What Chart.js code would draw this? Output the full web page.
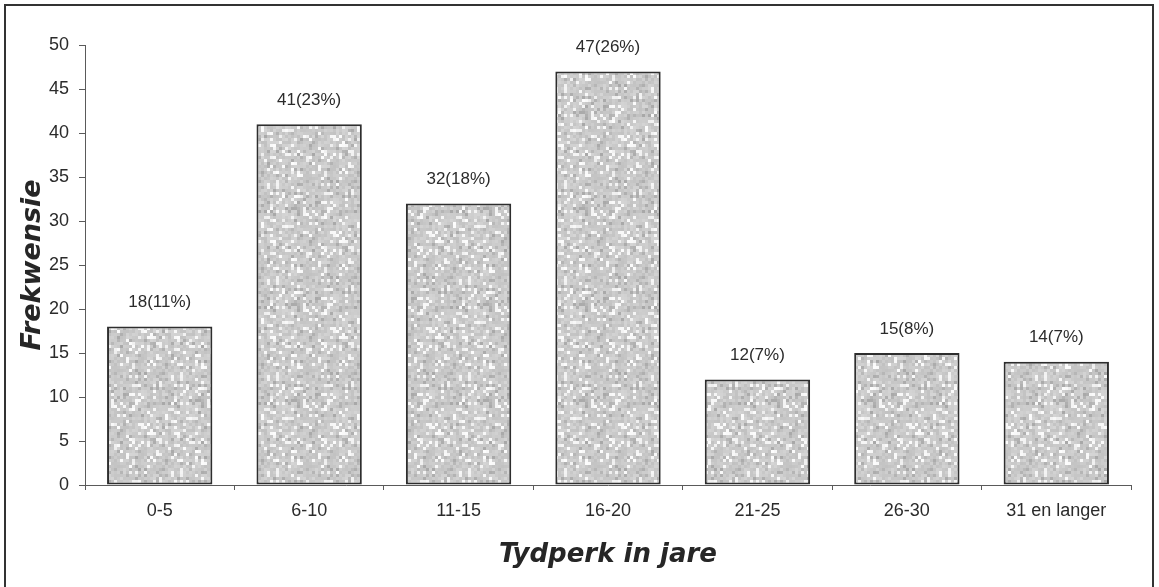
<!DOCTYPE html>
<html>
<head>
<meta charset="utf-8">
<script src="https://cdn.jsdelivr.net/npm/chart.js@4/dist/chart.umd.min.js"></script>
<style>
  html, body { margin: 0; padding: 0; background: #ffffff; }
  canvas { display: block; }
</style>
</head>
<body>
<canvas id="chart" width="1159" height="587"></canvas>
<script>
// Period categories (years) and respondent counts
const categories = ['0-5', '6-10', '11-15', '16-20', '21-25', '26-30', '31 en langer'];
const counts = [18, 41, 32, 47, 12, 15, 14];
const percentages = [11, 23, 18, 26, 7, 8, 7];
const yTicks = [0, 5, 10, 15, 20, 25, 30, 35, 40, 45, 50];

const TEXT = '#2b2b2b';
const AXIS = '#5a5a5a';

// Stippled grey fill for the bars (deterministic hash texture)
function makeStipple() {
  const size = 96, cell = 3;
  const c = document.createElement('canvas');
  c.width = size; c.height = size;
  const g = c.getContext('2d');
  const hash = (x, y) => {
    let h = Math.imul(x, 374761393) + Math.imul(y, 668265263);
    h = Math.imul(h ^ (h >>> 13), 1274126177);
    h ^= h >>> 16;
    return (h >>> 0) / 4294967295;
  };
  for (let y = 0; y < size; y += cell) {
    for (let x = 0; x < size; x += cell) {
      const r = hash(x / cell, y / cell);
      let v;
      if (r > 0.85) v = 238 + Math.floor(hash(x + 7, y + 3) * 16);
      else if (r < 0.12) v = 168 + Math.floor(hash(x + 1, y + 9) * 18);
      else v = 190 + Math.floor(r * 28);
      g.fillStyle = `rgb(${v},${v},${v})`;
      g.fillRect(x, y, cell, cell);
    }
  }
  // soften the speckle a little
  const s = document.createElement('canvas');
  s.width = size; s.height = size;
  const sg = s.getContext('2d');
  sg.filter = 'blur(0.6px)';
  for (const dx of [-size, 0, size]) {
    for (const dy of [-size, 0, size]) sg.drawImage(c, dx, dy);
  }
  return sg.createPattern(s, 'repeat');
}

// Outer frame around the whole figure
const framePlugin = {
  id: 'frame',
  beforeDraw(chart) {
    const ctx = chart.ctx;
    ctx.save();
    ctx.fillStyle = '#ffffff';
    ctx.fillRect(0, 0, chart.width, chart.height);
    ctx.strokeStyle = '#333333';
    ctx.lineWidth = 2;
    ctx.strokeRect(5, 5, 1148, 590);
    ctx.restore();
  }
};

// Count (percentage) labels above each bar
const valueLabels = {
  id: 'valueLabels',
  afterDatasetsDraw(chart) {
    const ctx = chart.ctx;
    const meta = chart.getDatasetMeta(0);
    ctx.save();
    ctx.font = '17px "Liberation Sans", Arial, sans-serif';
    ctx.fillStyle = TEXT;
    ctx.textAlign = 'center';
    ctx.textBaseline = 'middle';
    meta.data.forEach((bar, i) => {
      ctx.fillText(`${counts[i]}(${percentages[i]}%)`, bar.x, bar.y - 24);
    });
    ctx.restore();
  }
};

new Chart(document.getElementById('chart'), {
  type: 'bar',
  data: {
    labels: categories,
    datasets: [{
      data: counts,
      backgroundColor: makeStipple(),
      borderColor: '#2e2e2e',
      borderWidth: 2,
      borderSkipped: false,
      categoryPercentage: 1,
      barPercentage: 0.705
    }]
  },
  options: {
    responsive: false,
    devicePixelRatio: 1,
    animation: false,
    layout: { padding: { top: 45, right: 28, bottom: 14, left: 12 } },
    plugins: {
      legend: { display: false },
      tooltip: { enabled: false }
    },
    scales: {
      x: {
        offset: true,
        afterFit: (s) => { s.height = 88; },
        grid: {
          offset: true,
          drawOnChartArea: false,
          drawTicks: true,
          tickLength: 5,
          color: AXIS
        },
        border: { display: true, color: AXIS, width: 1 },
        ticks: {
          color: TEXT,
          padding: 10,
          font: { family: '"Liberation Sans", Arial, sans-serif', size: 18 }
        },
        title: {
          display: true,
          text: 'Tydperk in jare',
          color: '#262626',
          padding: { top: 0, bottom: 2 },
          font: { family: '"DejaVu Sans", Verdana, sans-serif', size: 26, weight: 'bold', style: 'italic' }
        }
      },
      y: {
        min: 0,
        max: 50,
        afterFit: (s) => { s.width = 73; },
        afterBuildTicks: (s) => { s.ticks = yTicks.map(v => ({ value: v })); },
        grid: {
          drawOnChartArea: false,
          drawTicks: true,
          tickLength: 6,
          color: AXIS
        },
        border: { display: true, color: AXIS, width: 1 },
        ticks: {
          color: TEXT,
          padding: 10,
          font: { family: '"Liberation Sans", Arial, sans-serif', size: 18 }
        },
        title: {
          display: true,
          text: 'Frekwensie',
          color: '#262626',
          padding: { top: 5, bottom: 0 },
          font: { family: '"DejaVu Sans", Verdana, sans-serif', size: 27, weight: 'bold', style: 'italic' }
        }
      }
    }
  },
  plugins: [framePlugin, valueLabels]
});
</script>
</body>
</html>
